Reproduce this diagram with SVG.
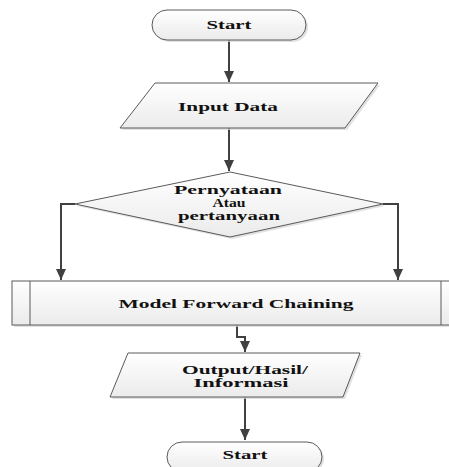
<svg xmlns="http://www.w3.org/2000/svg" width="449" height="467" viewBox="0 0 449 467">
<defs>
<linearGradient id="g" x1="0" y1="0" x2="0" y2="1">
<stop offset="0" stop-color="#ffffff"/>
<stop offset="1" stop-color="#ebebeb"/>
</linearGradient>
<marker id="ah" markerWidth="12" markerHeight="10" refX="11" refY="5" orient="auto" markerUnits="userSpaceOnUse">
<path d="M0,0 L11,5 L0,10 Z" fill="#404040"/>
</marker>
</defs>
<style>
.s{fill:url(#g);stroke:#5a5a5a;stroke-width:1}
.sh{fill:#d4d4d4;stroke:none;opacity:0.7}
.t{font-family:"Liberation Serif","Times New Roman",serif;font-weight:bold;font-size:12px;fill:#111;text-anchor:middle}
.d{font-size:11.5px}
.c{fill:none;stroke:#404040;stroke-width:2}
</style>
<g id="connectors">
<path class="c" d="M229,40 V82" marker-end="url(#ah)"/>
<path class="c" d="M229,128 V171" marker-end="url(#ah)"/>
<path class="c" d="M75,204 H61 V280" marker-end="url(#ah)"/>
<path class="c" d="M383,204 H398 V280" marker-end="url(#ah)"/>
<path class="c" d="M237,325 V337 H245 V352" marker-end="url(#ah)"/>
<path class="c" d="M245,397 V440" marker-end="url(#ah)"/>
</g>
<g id="start">
<rect class="sh" x="154" y="12" width="154" height="30" rx="15" ry="15"/>
<rect class="s" x="152" y="10" width="154" height="30" rx="15" ry="15"/>
<text class="t" x="229" y="29" textLength="45" lengthAdjust="spacingAndGlyphs">Start</text>
</g>
<g id="input">
<polygon class="sh" points="157,85 380,85 347,130 122,130"/>
<polygon class="s" points="155,83 378,83 345,128 120,128"/>
<text class="t" x="228" y="111" textLength="100" lengthAdjust="spacingAndGlyphs">Input Data</text>
</g>
<g id="decision">
<polygon class="sh" points="232,174 385,206 232,239 77,206"/>
<polygon class="s" points="230,172 383,204 230,237 75,204"/>
<text class="t d" x="228" y="194" textLength="108" lengthAdjust="spacingAndGlyphs">Pernyataan</text>
<text class="t d" x="229" y="207" textLength="33" lengthAdjust="spacingAndGlyphs">Atau</text>
<text class="t d" x="229" y="220" textLength="102" lengthAdjust="spacingAndGlyphs">pertanyaan</text>
</g>
<g id="process">
<rect class="sh" x="14" y="283" width="445" height="44"/>
<rect class="s" x="12" y="281" width="445" height="44"/>
<line x1="30" y1="281" x2="30" y2="325" stroke="#5a5a5a" stroke-width="1"/>
<line x1="441" y1="281" x2="441" y2="325" stroke="#5a5a5a" stroke-width="1"/>
<text class="t" x="236" y="308" textLength="235" lengthAdjust="spacingAndGlyphs">Model Forward Chaining</text>
</g>
<g id="output">
<polygon class="sh" points="130,355 362,355 345,399 112,399"/>
<polygon class="s" points="128,353 360,353 343,397 110,397"/>
<text class="t" x="245" y="374" textLength="126" lengthAdjust="spacingAndGlyphs">Output/Hasil/</text>
<text class="t" x="241" y="387" textLength="95" lengthAdjust="spacingAndGlyphs">Informasi</text>
</g>
<g id="end">
<rect class="sh" x="169" y="444" width="155" height="30" rx="15" ry="15"/>
<rect class="s" x="167" y="442" width="155" height="30" rx="15" ry="15"/>
<text class="t" x="245" y="459" textLength="45" lengthAdjust="spacingAndGlyphs">Start</text>
</g>
</svg>
